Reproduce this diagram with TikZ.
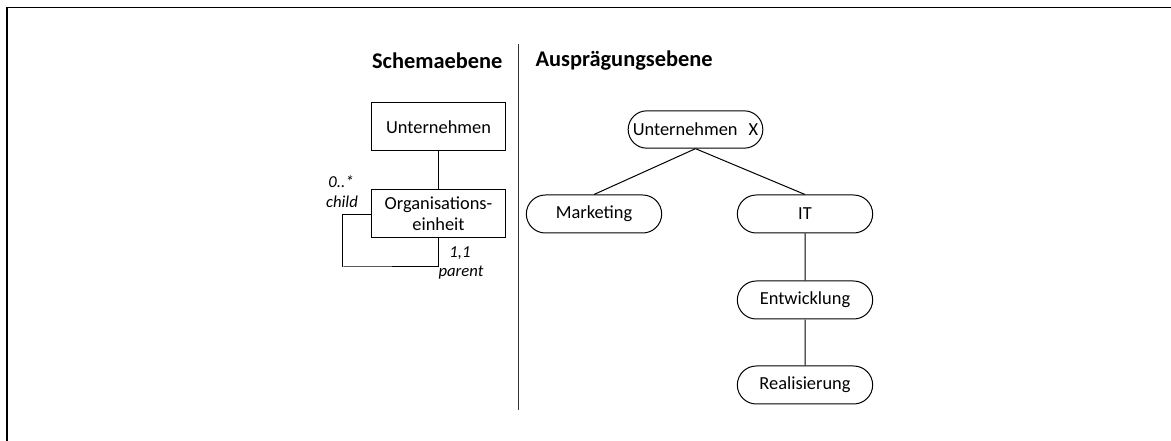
\documentclass[tikz,border=0pt]{standalone}
\usepackage{fontspec}
\setmainfont{Carlito}
\usetikzlibrary{shapes.misc}
\begin{document}
\begin{tikzpicture}[x=0.75pt,y=-0.75pt,
  line width=0.75pt,
  ent/.style={draw,rectangle,minimum width=100pt,minimum height=36pt,inner sep=0pt,font=\fontsize{13.8}{16}\selectfont,align=center},
  inst/.style={draw,rounded rectangle,minimum width=101.5pt,minimum height=28.5pt,inner sep=0pt,font=\fontsize{13.8}{16}\selectfont},
  ttl/.style={font=\fontsize{16.8}{19}\selectfont\bfseries,inner sep=0pt},
  card/.style={font=\fontsize{12.5}{14}\selectfont\itshape,inner sep=0pt}]
\useasboundingbox (0,0) rectangle (1171,441);
\draw[line width=1.4pt] (7,441) -- (7,7.5) -- (1171,7.5);
\draw[draw=black!80] (518,44) -- (518,410);
\node[ttl,anchor=east] (t1) at (503,61) {Schemaebene};
\node[ttl,anchor=west] (t2) at (535,61) {Ausprägungsebene};
% schema
\node[ent] (u) at (438.5,127) {Unternehmen};
\node[ent] (o) at (438.5,214) {Organisations-\\einheit};
\draw (u) -- (o);
\coordinate (la) at (343,267);
\draw ([yshift=-0.75pt]o.west) -- ++(-29,0) coordinate (c1) |- (la) -| ([xshift=0pt]o.south);
\node[card] (m1) at (341,182) {0..*};
\node[card] (m2) at (342,202) {child};
\node[card] (m3) at (460,253) {1,1};
\node[card] (m4) at (461,273) {parent};
% instances
\node[inst,minimum width=101pt,minimum height=28pt] (ux) at (695.5,129.5) {Unternehmen\hspace{0.6em}X};
\node[inst] (mk) at (594,214) {Marketing};
\node[inst] (it) at (805,214) {IT};
\node[inst] (en) at (805,300) {Entwicklung};
\node[inst] (re) at (805,385) {Realisierung};
\draw (ux.south) -- (mk.north);
\draw (ux.south) -- (it.north);
\draw (it) -- (en);
\draw (en) -- (re);
\end{tikzpicture}
\end{document}
